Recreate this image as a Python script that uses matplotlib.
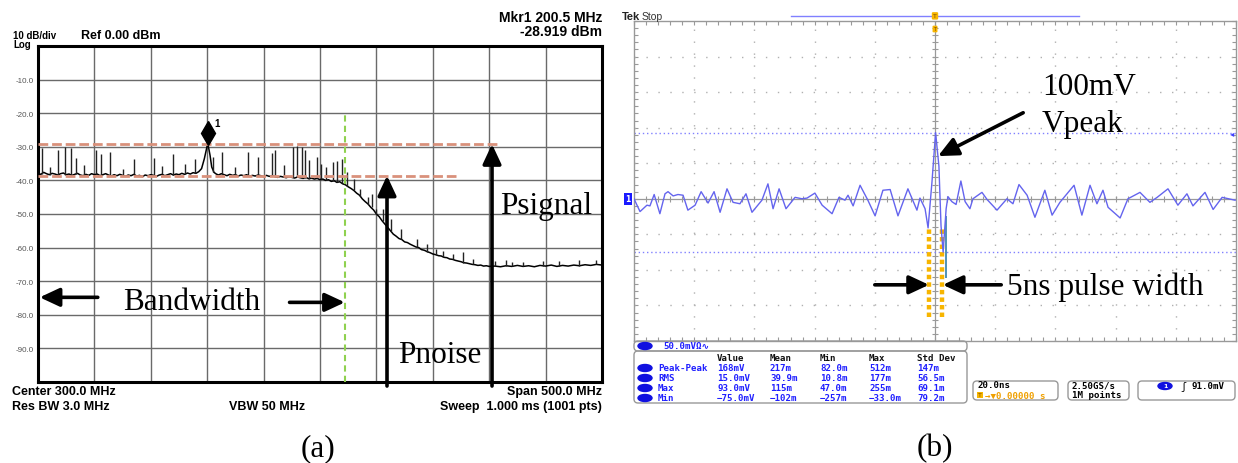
import numpy as np
import matplotlib.pyplot as plt
from matplotlib.patches import FancyBboxPatch, Ellipse

W, H = 1238, 464
SERIF = 'Liberation Serif'
SANS = 'Liberation Sans'
MONO = ['DejaVu Sans Mono', 'DejaVu Sans']

# ---- (a) spectrum analyser sweep, 50-550 MHz, dBm ----
trace_freq = [50, 52.5, 55, 57.5, 60, 62.5, 65, 67.5, 70, 72.5, 75, 77.5, 80, 82.5, 85, 87.5,
              90, 92.5, 95, 97.5, 100, 102.5, 105, 107.5, 110, 112.5, 115, 117.5, 120, 122.5,
              125, 127.5, 130, 132.5, 135, 137.5, 140, 142.5, 145, 147.5, 150, 152.5, 155,
              157.5, 160, 162.5, 165, 167.5, 170, 172.5, 175, 177.5, 180, 182.5, 185, 187.5,
              190, 192.5, 195, 197.5, 200.5, 202.5, 204, 206, 208, 210, 212.5, 215, 217.5,
              220, 222.5, 225, 227.5, 230, 232.5, 235, 237.5, 240, 242.5, 245, 247.5, 250,
              252.5, 255, 257.5, 260, 262.5, 265, 267.5, 270, 272.5, 275, 277.5, 280, 282.5,
              285, 287.5, 290, 292.5, 295, 297.5, 300, 302.5, 305, 307.5, 310, 312.5, 315,
              317.5, 320, 322.5, 325, 327.5, 330, 332.5, 335, 337.5, 340, 342.5, 345, 347.5,
              350, 352.5, 355, 357.5, 360, 362.5, 365, 367.5, 370, 372.5, 375, 377.5, 380,
              382.5, 385, 387.5, 390, 392.5, 395, 397.5, 400, 402.5, 405, 407.5, 410, 412.5,
              415, 417.5, 420, 422.5, 425, 427.5, 430, 432.5, 435, 437.5, 440, 442.5, 445,
              447.5, 450, 455, 460, 465, 470, 475, 480, 485, 490, 495, 500, 505, 510, 515,
              520, 525, 530, 535, 540, 545, 550]
trace_dbm = [-37.9, -38.2, -37.6, -38.0, -38.3, -37.9, -38.1, -38.4, -38.0, -37.8, -38.3, -38.1,
             -38.5, -38.2, -37.9, -38.4, -38.6, -38.2, -38.5, -38.0, -38.3, -38.1, -38.6, -38.3,
             -38.0, -38.4, -38.7, -38.3, -38.6, -38.2, -38.5, -38.8, -38.4, -38.6, -38.2, -38.7,
             -38.5, -38.9, -38.4, -38.6, -38.3, -38.5, -38.8, -38.4, -38.2, -38.6, -38.3, -38.0,
             -38.4, -38.1, -38.3, -37.9, -38.2, -37.8, -38.1, -37.7, -37.9, -37.4, -36.5, -33.5,
             -28.919, -32.5, -36.0, -37.6, -38.1, -38.4, -38.0, -38.3, -38.6, -38.2, -38.5,
             -38.3, -38.7, -38.4, -38.6, -38.3, -38.8, -38.5, -38.7, -38.4, -38.6, -38.9, -38.5,
             -38.8, -38.6, -38.9, -39.1, -38.8, -39.0, -39.2, -38.9, -39.1, -39.3, -39.0, -39.2,
             -39.4, -39.1, -39.5, -39.3, -39.6, -39.4, -39.8, -39.6, -40.0, -39.8, -40.3, -40.1,
             -40.6, -40.4, -41.0, -41.3, -41.9, -42.4, -43.0, -43.8, -44.4, -45.5, -46.3, -47.0,
             -48.0, -48.8, -50.0, -50.8, -52.0, -53.0, -54.0, -55.0, -56.0, -56.6, -57.3, -57.6,
             -58.3, -58.5, -59.0, -59.4, -59.8, -60.0, -60.6, -60.8, -61.2, -61.5, -61.9, -62.1,
             -62.4, -62.5, -62.9, -63.0, -63.4, -63.5, -63.8, -64.0, -64.2, -64.5, -64.6, -64.8,
             -65.0, -65.1, -65.3, -65.2, -65.5, -65.4, -65.6, -65.5, -65.7, -65.4, -65.6, -65.3,
             -65.6, -65.4, -65.7, -65.3, -65.5, -65.2, -65.6, -65.3, -65.5, -65.2, -65.4, -65.1,
             -65.3, -65.0, -65.2]

# narrow spurs riding on the floor
spur_freq = [53.3, 60.5, 67.7, 73.9, 79.3, 83.7, 91.0, 101.4, 105.6, 113.8, 125.0, 135.1, 152.8,
             160.0, 169.7, 180.0, 189.2, 205.1, 213.1, 225.0, 236.2, 245.0, 257.4, 260.1, 268.0,
             276.0, 279.6, 284.0, 286.7, 290.5, 297.3, 300.5, 305.0, 311.5, 315.0, 319.5, 324.0,
             330.0, 335.4, 342.5, 346.0, 350.0, 356.0, 363.0, 372.0, 386.0, 395.0, 403.0, 409.0,
             418.0, 426.8, 436.0, 455.0, 465.0, 470.0, 480.0, 498.0, 512.0, 530.0, 545.0]
spur_top = [-30.3, -36.0, -31.0, -30.0, -30.3, -33.2, -35.5, -31.0, -32.0, -31.4, -36.5, -33.7,
            -33.2, -35.8, -32.0, -35.0, -33.5, -33.0, -31.4, -36.0, -31.4, -33.0, -31.8, -31.0,
            -35.5, -30.0, -29.8, -30.0, -31.0, -34.0, -33.0, -35.0, -36.0, -34.5, -34.3, -33.7,
            -37.5, -39.5, -42.5, -45.0, -44.0, -48.5, -48.5, -51.5, -54.5, -57.4, -59.0, -60.3,
            -61.0, -62.0, -61.3, -63.5, -64.0, -63.8, -64.3, -64.2, -63.9, -64.0, -63.8, -63.6]
spur_base = [-38.2, -38.3, -38.4, -38.3, -38.5, -38.2, -38.6, -38.2, -38.6, -38.4, -38.5, -38.2,
             -38.5, -38.2, -38.3, -38.2, -37.9, -37.6, -38.3, -38.3, -38.5, -38.5, -38.7, -38.9,
             -39.1, -39.1, -39.0, -39.4, -39.2, -39.5, -39.4, -39.7, -40.0, -40.2, -40.6, -40.8,
             -41.8, -43.0, -44.6, -47.0, -48.0, -50.0, -52.0, -55.0, -57.3, -59.8, -61.2, -62.2,
             -62.9, -63.5, -64.5, -65.0, -65.5, -65.4, -65.6, -65.6, -65.4, -65.6, -65.4, -65.0]

marker_freq = 200.5
marker_dbm = -28.919
signal_level = -29.2
noise_level = -38.6
band_edge = 322.0
noise_probe = 359.4
signal_probe = 452.5
ref_levels = [-10, -20, -30, -40, -50, -60, -70, -80, -90]

# ---- (b) oscilloscope capture, ns / mV ----
scope_t = [-100, -98, -95.7, -94.7, -93.3, -91.4, -89.7, -88.7, -87, -85.4, -83.7, -82.1, -79.7,
           -77.7, -75.4, -73.4, -71.4, -69.1, -67.1, -64.8, -62.8, -60.8, -57.5, -55.5, -53.8,
           -51.8, -49.5, -46.5, -44.2, -42.5, -39.9, -37.5, -34.2, -31.9, -29.9, -28.9, -27.2,
           -24.9, -22.3, -19.9, -17.3, -14.9, -12.3, -9.0, -6.0, -5.0, -3.3, -2.3, -1.0, 0.2,
           1.3, 2.0, 2.7, 3.7, 4.3, 5.6, 7.0, 8.6, 10.0, 11.6, 12.6, 15.6, 17.3, 20.6, 23.9,
           25.9, 27.9, 30.6, 33.2, 36.5, 38.9, 41.5, 46.2, 48.8, 51.5, 53.8, 55.8, 57.5, 61.5,
           64.1, 68.1, 71.4, 73.8, 77.4, 80.7, 83.7, 85.7, 89.7, 92.4, 95.4, 99.7]
scope_mv = [0, -18, -9, -10, 6, -21, 7, 10, 4, 6, 5, -16, -9, 10, -6, 10, -19, 14, -5, -7, 7,
            -19, -2, 21, -14, 14, -14, 2, 0, 1, 8, -9, -21, 2, -2, 5, -10, 19, -2, -24, 12, 13,
            -24, 14, -16, 1, -14, -41, 24, 93, 46, -38, -75, -14, 3, -4, -8, 25, -4, -14, 0, 9,
            -1, -16, 0, -7, 20, 5, -26, 12, -23, -5, 19, -23, 19, -7, 12, -12, -27, 0, 9, -5,
            2, 14, -9, 7, -10, 9, -15, 2, -2]
cursor_hi = 93.0
cursor_lo = -75.0
pulse_edges = [-2.0, 2.3]
trig_level = 91.0

meas_rows = ['Peak-Peak', 'RMS', 'Max', 'Min']
meas_value = ['168mV', '15.0mV', '93.0mV', '\u221275.0mV']
meas_mean = ['217m', '39.9m', '115m', '\u2212102m']
meas_min = ['82.0m', '10.8m', '47.0m', '\u2212257m']
meas_max = ['512m', '177m', '255m', '\u221233.0m']
meas_std = ['147m', '56.5m', '69.1m', '79.2m']
meas_head = ['Value', 'Mean', 'Min', 'Max', 'Std Dev']


def px(x0, y0, w, h):
    return [x0 / W, 1 - (y0 + h) / H, w / W, h / H]


fig = plt.figure(figsize=(W / 100, H / 100), dpi=100)
fig.patch.set_facecolor('white')

arrow = dict(arrowstyle='-|>,head_length=0.6,head_width=0.28', color='k', lw=2.6,
             shrinkA=0, shrinkB=0, mutation_scale=20)

# ---------------- spectrum analyser ----------------
ax = fig.add_axes(px(38, 47, 564, 336))
ax.set_xlim(50, 550)
ax.set_ylim(-100, 0)
ax.set_xticks(np.arange(100, 550, 50))
ax.set_xticklabels([])
ax.set_yticks(ref_levels)
ax.set_yticklabels([f'{v:.1f}' for v in ref_levels], fontsize=5.8, color='#555', family=SANS)
ax.tick_params(length=0, pad=3)
ax.grid(True, color='#6a6a6a', lw=1.0)
for s in ax.spines.values():
    s.set_linewidth(2.2)

ax.plot(trace_freq, trace_dbm, color='k', lw=1.1, zorder=3)
ax.vlines(spur_freq, spur_base, spur_top, color='#222', lw=1.0, zorder=3)
ax.hlines(signal_level, 50, 459, color='#d9917b', lw=2.0, linestyles=(0, (3.5, 1.4)), zorder=4)
ax.hlines(noise_level, 50, 421, color='#d9917b', lw=2.0, linestyles=(0, (3.5, 1.4)), zorder=4)
ax.vlines(band_edge, -100, -20.5, color='#8fd14f', lw=1.5, linestyles=(0, (3, 2)), zorder=4)
ax.plot(marker_freq, marker_dbm + 3.0, marker='d', ms=12, color='k', zorder=5)
ax.text(marker_freq + 6, marker_dbm + 5.2, '1', fontsize=7, fontweight='bold', family=SANS)

ax.annotate('', xy=(noise_probe, noise_level), xytext=(noise_probe, -101.2),
            arrowprops=arrow, annotation_clip=False)
ax.annotate('', xy=(signal_probe, signal_level), xytext=(signal_probe, -101.2),
            arrowprops=arrow, annotation_clip=False)
ax.annotate('', xy=(51.5, -74.8), xytext=(103, -74.8), arrowprops=arrow)
ax.annotate('', xy=(band_edge, -76.3), xytext=(273, -76.3), arrowprops=arrow)

# ---------------- oscilloscope ----------------
ax2 = fig.add_axes(px(634, 22, 602, 320))
ax2.set_xlim(-100, 100)
ax2.set_ylim(-200, 250)
ax2.set_xticks(np.arange(-100, 101, 4))
ax2.set_yticks(np.arange(-200, 251, 10))
ax2.tick_params(which='both', direction='in', length=3, color='#999',
                labelbottom=False, labelleft=False, top=True, right=True, width=0.8)
for s in ax2.spines.values():
    s.set_color('#999')
    s.set_linewidth(1.0)

dots = (0, (1, 7.6))
ax2.vlines([v for v in range(-80, 100, 20) if v != 0], -200, 250, color='#b0b0b0', lw=1,
           linestyles=dots)
ax2.hlines([v for v in range(-150, 250, 50) if v != 0], -100, 100, color='#b0b0b0', lw=1,
           linestyles=dots)
ax2.axvline(0, color='#999', lw=0.9)
ax2.axhline(0, color='#999', lw=0.9)
tx = np.arange(-96, 100, 4)
ty = np.arange(-190, 250, 10)
ax2.plot(tx, np.zeros_like(tx), ls='none', marker='|', ms=5, color='#999', mew=0.8)
ax2.plot(np.zeros_like(ty), ty, ls='none', marker='_', ms=5, color='#999', mew=0.8)

ax2.hlines([cursor_hi, cursor_lo], -100, 100, color='#8080ff', lw=1, linestyles=(0, (1, 2)))
ax2.vlines(pulse_edges, -166, -39, color='#f7b500', lw=3.2, linestyles=(0, (1, 0.7)), zorder=4)
ax2.vlines(3.7, -112, -24, color='#4f92b8', lw=1.4, zorder=4)
ax2.plot(scope_t, scope_mv, color='#6464ee', lw=1.0, zorder=5)

# record bar and trigger marker above the graticule
xt = ax2.get_xaxis_transform()
ax2.plot([-48, 48], [1.016, 1.016], transform=xt, color='#8080ff', lw=1, clip_on=False)
ax2.text(0, 1.016, 'T', transform=xt, ha='center', va='center', fontsize=4.5, color='#7a4a00',
         bbox=dict(boxstyle='round,pad=0.2', fc='#f7b500', ec='none'), clip_on=False)
ax2.text(0, 0.975, 'T', transform=xt, ha='center', va='center', fontsize=4, color='#7a4a00',
         bbox=dict(boxstyle='round,pad=0.15', fc='#f7b500', ec='none'), clip_on=False)
ax2.text(0.993, cursor_hi, '\u25c2', transform=ax2.get_yaxis_transform(), fontsize=6,
         color='#4040ff', ha='center', va='center')

ax2.annotate('', xy=(1.0, 60), xytext=(29.3, 121), arrowprops=arrow)
ax2.annotate('', xy=(pulse_edges[0], -121), xytext=(-20, -121), arrowprops=arrow)
ax2.annotate('', xy=(pulse_edges[1] + 0.3, -121), xytext=(22, -121), arrowprops=arrow)

# ---------------- text and readouts ----------------
ov = fig.add_axes([0, 0, 1, 1], zorder=10)
ov.set_xlim(0, W)
ov.set_ylim(H, 0)
ov.axis('off')
ov.patch.set_alpha(0)

bold = dict(family=SANS, fontweight='bold', va='center')
ov.text(13, 36, '10 dB/div', fontsize=7, **bold)
ov.text(13, 44.5, 'Log', fontsize=7, **bold)
ov.text(81, 36, 'Ref 0.00 dBm', fontsize=9, **bold)
ov.text(602, 17.5, 'Mkr1 200.5 MHz', fontsize=10, ha='right', **bold)
ov.text(602, 32.5, f'{marker_dbm:.3f} dBm', fontsize=10, ha='right', **bold)
ov.text(12, 392.5, 'Center 300.0 MHz', fontsize=9, **bold)
ov.text(12, 407.5, 'Res BW 3.0 MHz', fontsize=9, **bold)
ov.text(229, 407.5, 'VBW 50 MHz', fontsize=9, **bold)
ov.text(602, 392.5, 'Span 500.0 MHz', fontsize=9, ha='right', **bold)
ov.text(602, 407.5, 'Sweep  1.000 ms (1001 pts)', fontsize=9, ha='right', **bold)

big = dict(family=SERIF, fontsize=22.5, va='baseline')
ov.text(123, 310, 'Bandwidth', **big)
ov.text(398, 363, 'Pnoise', **big)
ov.text(500, 214, 'Psignal', **big)
ov.text(1042, 95, '100mV', **big)
ov.text(1042, 132, 'Vpeak', **big)
ov.text(1007, 295, '5ns pulse width', **big)
ov.text(318, 456, '(a)', ha='center', **big)
ov.text(935, 456, '(b)', ha='center', **big)

ov.text(622, 17, 'Tek', fontsize=8, fontweight='bold', family=SANS, va='center', color='#222')
ov.text(642, 17, 'Stop', fontsize=7.5, family=SANS, va='center', color='#333')
ov.text(628, 200, '1', fontsize=5.5, color='white', ha='center', va='center', fontweight='bold',
        bbox=dict(boxstyle='square,pad=0.2', fc='#1a1aff', ec='none'))

blue = '#2020ff'
mono = dict(fontsize=6.6, va='center', family=MONO, fontweight='bold')
ov.add_patch(FancyBboxPatch((634, 342), 333, 10, boxstyle='round,pad=0,rounding_size=4',
                            ec='#999', fc='none', lw=1))
ov.add_patch(FancyBboxPatch((634, 352), 333, 52, boxstyle='round,pad=0,rounding_size=4',
                            ec='#999', fc='none', lw=1))
ov.add_patch(Ellipse((645, 347), 14, 7, color='#1010e0'))
ov.text(663, 347, '50.0mV\u03a9\u223f', color=blue, **mono)

cols = [717, 770, 820, 869, 917]
for x, h in zip(cols, meas_head):
    ov.text(x, 359, h, color='#111', **mono)
for i, name in enumerate(meas_rows):
    y = 369 + 10 * i
    ov.add_patch(Ellipse((645, y), 14, 7, color='#1010e0'))
    ov.text(658, y, name, color=blue, **mono)
    cells = [meas_value[i], meas_mean[i], meas_min[i], meas_max[i], meas_std[i]]
    for x, c in zip(cols, cells):
        ov.text(x, y, c, color=blue, **mono)

for x0, w in [(973, 85), (1068, 61), (1138, 97)]:
    ov.add_patch(FancyBboxPatch((x0, 382), w, 19, boxstyle='round,pad=0,rounding_size=4',
                                ec='#999', fc='none', lw=1))
ov.text(977, 386, '20.0ns', **mono)
ov.text(980, 396, 'T', fontsize=4.5, va='center', ha='center', color='#7a4a00',
        bbox=dict(boxstyle='square,pad=0.15', fc='#f7b500', ec='none'))
ov.text(985, 396, '\u2192\u25bc0.00000 s', color='#f0a000', **mono)
ov.text(1072, 386, '2.50GS/s', **mono)
ov.text(1072, 396, '1M points', **mono)
ov.add_patch(Ellipse((1165, 387), 14, 7, color='#1010e0'))
ov.text(1165, 387, '1', fontsize=4.5, color='white', ha='center', va='center',
        fontweight='bold')
ov.text(1180, 387, '\u0283', fontsize=7, va='center', family=MONO)
ov.text(1192, 387, f'{trig_level:.1f}mV', **mono)

fig.savefig('out.png', dpi=100)
